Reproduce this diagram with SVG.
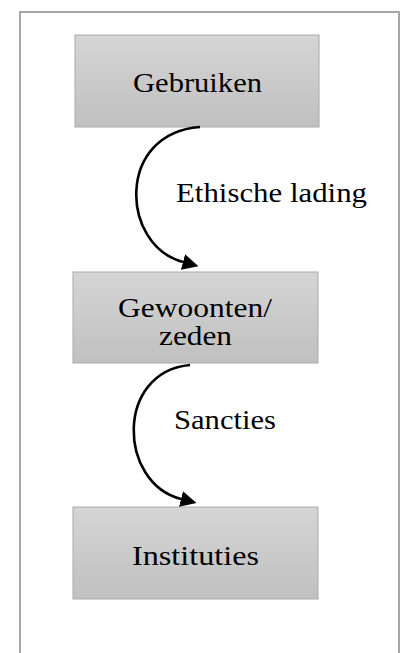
<svg xmlns="http://www.w3.org/2000/svg" width="406" height="653" viewBox="0 0 406 653">
  <defs>
    <linearGradient id="boxFill" x1="0" y1="0" x2="0" y2="1">
      <stop offset="0" stop-color="#d5d5d5"/>
      <stop offset="1" stop-color="#c0c0c0"/>
    </linearGradient>
    <marker id="head" markerUnits="userSpaceOnUse" markerWidth="18" markerHeight="17" refX="0" refY="8" orient="auto">
      <path d="M0,0 L16,8 L0,16 Z" fill="#000"/>
    </marker>
    <style>
      .frame { fill: #fff; stroke: #a6a6a6; stroke-width: 2; }
      .box { fill: url(#boxFill); stroke: #a9a9a9; stroke-width: 1; }
      .lbl { font-family: "Liberation Serif", "DejaVu Serif", serif; font-size: 27px; fill: #000; }
      .mid { text-anchor: middle; }
      .arc { fill: none; stroke: #000; stroke-width: 2.6; marker-end: url(#head); }
    </style>
  </defs>

  <rect width="406" height="653" fill="#fff"/>
  <rect class="frame" x="20" y="12" width="379" height="660"/>

  <g id="gebruiken">
    <rect class="box" x="75" y="35" width="244" height="92"/>
    <text class="lbl mid" x="197.5" y="92" textLength="129" lengthAdjust="spacingAndGlyphs">Gebruiken</text>
  </g>

  <g id="gewoonten">
    <rect class="box" x="73" y="272" width="245" height="91"/>
    <text class="lbl mid" x="195" y="317" textLength="154" lengthAdjust="spacingAndGlyphs">Gewoonten/</text>
    <text class="lbl mid" x="195.5" y="345" textLength="73" lengthAdjust="spacingAndGlyphs">zeden</text>
  </g>

  <g id="instituties">
    <rect class="box" x="73" y="507" width="245" height="92"/>
    <text class="lbl mid" x="195.5" y="565" textLength="127" lengthAdjust="spacingAndGlyphs">Instituties</text>
  </g>

  <g id="connectors">
    <path class="arc" d="M200,127 C116,133 120,245 183,262"/>
    <text class="lbl" x="176" y="202" textLength="191" lengthAdjust="spacingAndGlyphs">Ethische lading</text>
    <path class="arc" d="M190,365 C115,372 118,483 181,499"/>
    <text class="lbl" x="174" y="429" textLength="102" lengthAdjust="spacingAndGlyphs">Sancties</text>
  </g>
</svg>
